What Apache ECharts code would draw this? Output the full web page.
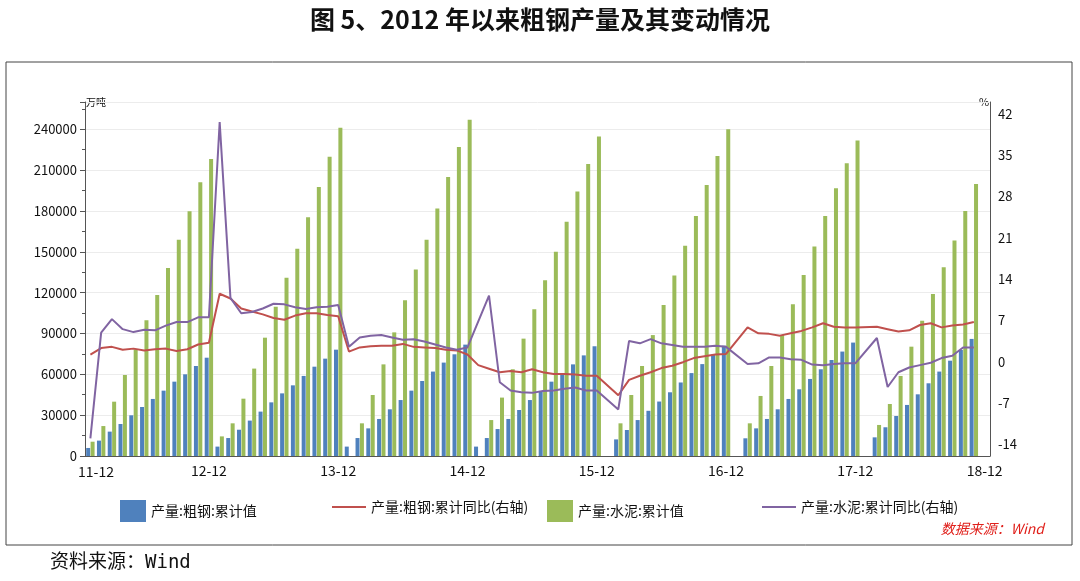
<!DOCTYPE html>
<html><head><meta charset="utf-8">
<script src="https://cdn.jsdelivr.net/npm/echarts@6/dist/echarts.min.js"></script>
<style>html,body{margin:0;padding:0;background:#fff}#c{width:1080px;height:581px}</style>
</head><body><div id="c"></div>
<script>
const years = ['12','13','14','15','16','17','18'];
const steelCum = [
 5900,11300,17900,23500,29900,36000,41900,48000,54600,60000,66100,72200,
 6900,13200,19300,26000,32600,39400,46000,51900,58800,65600,71500,78100,
 6900,13200,20300,27200,34300,41100,48000,55100,62000,68600,74700,81800,
 6900,13200,19800,27200,33800,41100,47300,54600,60700,67300,73900,80600,
 null,12200,19100,26400,33200,40000,46800,54000,60900,67500,74400,81000,
 null,13000,20300,27200,34300,41900,49000,56600,63700,70500,76700,83300,
 null,13700,21100,29400,37500,45300,53400,62000,70000,77900,86000,null];
const steelYoY = [
 1.2,2.3,2.5,2.0,2.2,1.9,2.1,2.2,1.8,2.1,2.9,3.2,
 11.5,10.7,9.0,8.5,8.0,7.4,7.1,7.8,8.2,8.2,7.9,7.7,
 1.7,2.4,2.6,2.7,2.7,3.0,2.5,2.4,2.3,2.0,1.9,1.2,
 -0.6,-1.2,-1.8,-1.6,-1.8,-1.3,-1.8,-2.1,-2.1,-2.2,-2.4,-2.4,
 null,-5.7,-3.1,-2.4,-1.8,-1.1,-0.7,-0.1,0.6,0.9,1.2,1.3,
 null,5.8,4.8,4.7,4.4,4.8,5.2,5.8,6.5,5.9,5.8,5.8,
 null,5.9,5.5,5.1,5.3,6.2,6.5,5.8,6.1,6.3,6.7,null];
const cementCum = [
 10500,22000,39900,59500,78400,99700,118300,138100,158900,179800,201100,218200,
 14400,24000,42100,64200,86900,109700,131000,152300,175300,197600,219700,241000,
 null,24000,44800,67300,90800,114400,136900,158900,181700,205000,227000,246900,
 null,26400,42900,63700,86200,107800,129100,150100,172100,194200,214500,234600,
 null,24000,44800,66100,88800,110900,132500,154500,176300,199100,220400,240000,
 null,24000,44100,66100,88900,111400,133000,153800,176300,196700,215000,231700,
 null,22800,38200,58800,80300,99400,119000,138600,158200,180000,199800,null];
const cementYoY = [
 -13,4.9,7.2,5.5,5.0,5.4,5.3,6.1,6.7,6.7,7.5,7.5,
 40.6,10.8,8.2,8.4,9.0,9.8,9.7,9.2,8.9,9.2,9.3,9.6,
 2.5,4.1,4.4,4.5,4.1,3.7,3.8,3.4,2.9,2.4,2.0,2.4,
 null,11.2,-3.5,-4.9,-5.2,-5.3,-5.0,-4.9,-4.6,-4.4,-4.9,-4.9,
 null,-8.1,3.5,3.1,3.8,3.1,2.8,2.5,2.5,2.5,2.7,2.5,
 null,-0.4,-0.3,0.7,0.7,0.4,0.3,-0.5,-0.6,-0.4,-0.3,-0.3,
 null,4.0,-4.3,-1.8,-1.0,-0.6,-0.2,0.6,1.0,2.4,2.4,null];
const names = ['产量:粗钢:累计值','产量:粗钢:累计同比(右轴)','产量:水泥:累计值','产量:水泥:累计同比(右轴)'];
const categories = [];
years.forEach(y => { for (let m = 1; m <= 12; m++) categories.push(y + '-' + String(m).padStart(2,'0')); });

const chart = echarts.init(document.getElementById('c'));
const font = '"Noto Sans CJK SC","Noto Sans",sans-serif';
const lg = (name, left, line) => ({show:true, data:[{name, icon:'rect'}], left, top:495,
  itemWidth: line?34:26, itemHeight: line?2:22, itemGap:4,
  textStyle:{fontSize:14, color:'#111', fontFamily:font}});
chart.setOption({
  animation:false,
  textStyle:{fontFamily:font},
  title:{text:'图 5、2012 年以来粗钢产量及其变动情况', left:'center', top:2, textStyle:{fontSize:25, fontWeight:'bold', color:'#111', fontFamily:font}},
  legend:[lg(names[0],115,false), lg(names[1],327,true), lg(names[2],542,false), lg(names[3],757,true)],
  grid:{left:85, right:90, top:102, bottom:125},
  graphic:[
    {type:'rect', shape:{x:6,y:62,width:1066,height:483}, style:{fill:null, stroke:'#444', lineWidth:1}},
    {type:'text', left:78, top:465, style:{text:'11-12', fill:'#111', font:'14px '+font}},
    {type:'text', left:86, top:97, style:{text:'万吨', fill:'#111', font:'10px '+font}},
    {type:'text', left:979, top:96, style:{text:'%', fill:'#111', font:'11px '+font}},
    {type:'text', right:36, top:522, style:{text:'数据来源：Wind', fill:'#e0201b', font:'italic 14px '+font}},
    {type:'text', left:50, top:554, style:{text:'资料来源：Wind', fill:'#111', font:'19px "DejaVu Sans Mono","Noto Sans CJK SC",monospace'}}
  ],
  xAxis:{type:'category', data:categories, boundaryGap:true,
    axisLine:{lineStyle:{color:'#555'}},
    axisTick:{interval:(i)=> i%12===0, length:5, lineStyle:{color:'#555'}},
    axisLabel:{interval:(i)=> i%12===11, formatter:(v)=> v.slice(0,2)+'-12', fontSize:14, color:'#111', margin:8}},
  yAxis:[
    {type:'value', min:0, max:260000, interval:30000,
     axisLine:{show:true, lineStyle:{color:'#555'}}, axisTick:{show:true, lineStyle:{color:'#555'}},
     minorTick:{show:true, splitNumber:2, lineStyle:{color:'#555'}},
     splitLine:{lineStyle:{color:'#ececec'}},
     axisLabel:{showMaxLabel:false, fontSize:13, color:'#111', formatter:(v)=> String(v)}},
    {type:'value', min:-16, max:44, interval:1, position:'right',
     axisLine:{show:true, lineStyle:{color:'#555'}}, axisTick:{show:false},
     splitLine:{show:false},
     axisLabel:{fontSize:13, color:'#111', formatter:(v)=> (v%7===0 && v>=-14 && v<=42) ? String(v) : ''}}
  ],
  series:[
    {name:names[0], type:'bar', data:steelCum, barWidth:4, barGap:'10%', itemStyle:{color:'#4f81bd'}},
    {name:names[1], type:'line', yAxisIndex:1, data:steelYoY, symbol:'none', connectNulls:true, lineStyle:{color:'#c0504d', width:2}, itemStyle:{color:'#c0504d'}, z:5},
    {name:names[2], type:'bar', data:cementCum, barWidth:4, itemStyle:{color:'#9bbb59'}},
    {name:names[3], type:'line', yAxisIndex:1, data:cementYoY, symbol:'none', connectNulls:true, lineStyle:{color:'#8064a2', width:2}, itemStyle:{color:'#8064a2'}, z:5}
  ]
});
</script></body></html>
